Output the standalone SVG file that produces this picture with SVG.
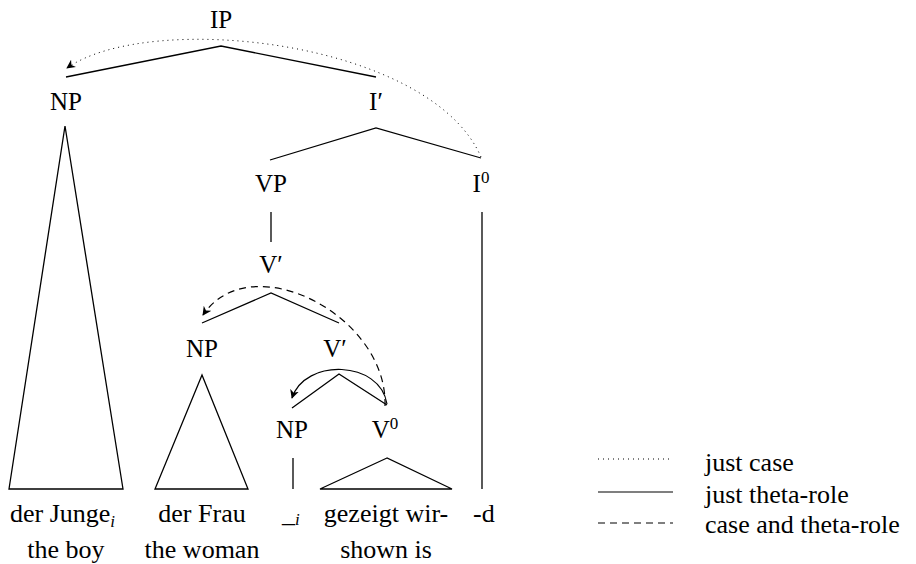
<svg xmlns="http://www.w3.org/2000/svg" width="916" height="564" viewBox="0 0 916 564">
<style>
text{font-family:"Liberation Serif",serif;font-size:25px;fill:#000}
.c{text-anchor:middle}
.w{font-size:26px}
.t{fill:none;stroke:#000;stroke-width:1.3}
.dot{fill:none;stroke:#000;stroke-width:1;stroke-dasharray:1 4}
.dash{fill:none;stroke:#000;stroke-width:1.2;stroke-dasharray:7 5}
.sol{fill:none;stroke:#000;stroke-width:1.2}
.sub{font-size:17px;font-style:italic}
</style>
<defs>
<marker id="ah" viewBox="0 0 10 10" refX="9" refY="5" markerWidth="9" markerHeight="9" markerUnits="userSpaceOnUse" orient="auto">
<path d="M0,0 L10,5 L0,10 L3,5 Z" fill="#000"/>
</marker>
</defs>
<g id="IP"><text class="c" x="221" y="28">IP</text><polyline class="t" points="66,77 221,46 376,77"/></g>
<g id="NP1"><text class="c" x="66" y="110">NP</text><polygon class="t" points="65,126 9,489 123,489"/></g>
<g id="Ibar"><text class="c" x="376" y="110">I′</text><polyline class="t" points="270,160 376,128 481,158"/></g>
<g id="VP"><text class="c" x="271" y="192">VP</text><line class="t" x1="271" y1="212" x2="271" y2="242"/></g>
<g id="I0"><text class="c" x="481" y="192">I<tspan dy="-9" font-size="17">0</tspan></text><line class="t" x1="482" y1="212" x2="482" y2="489"/></g>
<g id="Vbar1"><text class="c" x="271" y="273">V′</text><polyline class="t" points="202,323 271,293 339,323"/></g>
<g id="NP2"><text class="c" x="202" y="357">NP</text><polygon class="t" points="202,375 155,489 248,489"/></g>
<g id="Vbar2"><text class="c" x="335" y="357">V′</text><polyline class="t" points="292,408 339,374 387,405"/></g>
<g id="NP3"><text class="c" x="292" y="438">NP</text><line class="t" x1="293" y1="458" x2="293" y2="489"/></g>
<g id="V0"><text class="c" x="385" y="438">V<tspan dy="-9" font-size="17">0</tspan></text><polygon class="t" points="387,458 320,489 452,489"/></g>
<g id="words">
<text class="w" x="10" y="522">der Junge<tspan class="sub" dy="5">i</tspan></text>
<text class="c w" x="66" y="558">the boy</text>
<text class="c w" x="202" y="522">der Frau</text>
<text class="c w" x="202" y="558">the woman</text>
<text class="w" x="282" y="522">_<tspan class="sub" dy="3">i</tspan></text>
<text class="c w" x="386" y="522">gezeigt wir-</text>
<text class="c w" x="386" y="558">shown is</text>
<text class="w" x="473" y="522">-d</text>
</g>
<g id="connectors">
<path class="dot" d="M481,157 C430,40 150,10 67,68" marker-end="url(#ah)"/>
<path class="dash" d="M385,406 C388,315 250,245 203,315" marker-end="url(#ah)"/>
<path class="sol" d="M387,404 C380,360 305,358 292,398" marker-end="url(#ah)"/>
</g>
<g id="legend">
<line class="dot" x1="598" y1="459" x2="673" y2="459"/>
<text class="w" x="705" y="471">just case</text>
<line class="sol" x1="598" y1="492" x2="673" y2="492"/>
<text class="w" x="705" y="503">just theta-role</text>
<line class="dash" x1="598" y1="523" x2="673" y2="523"/>
<text class="w" x="705" y="533">case and theta-role</text>
</g>
</svg>
